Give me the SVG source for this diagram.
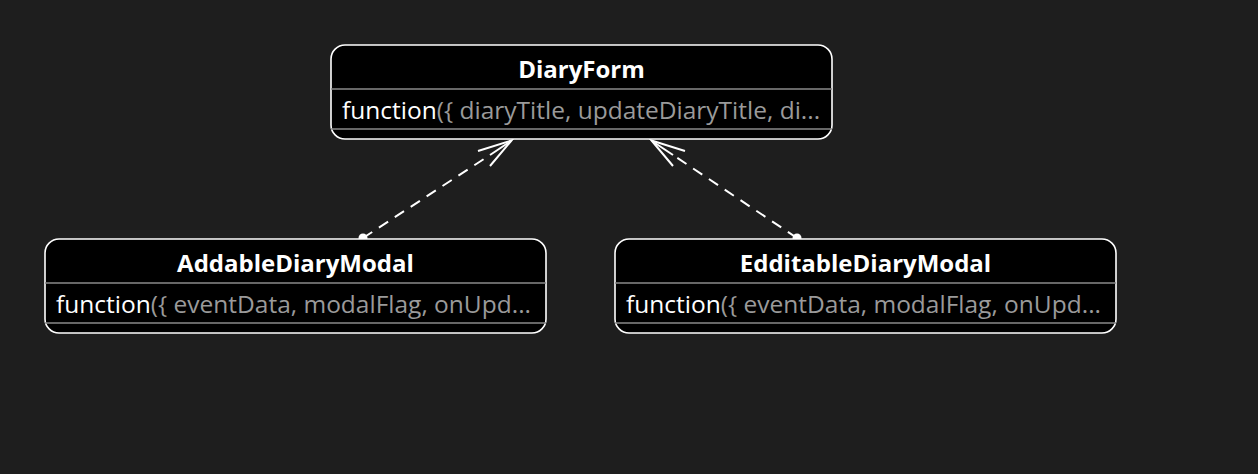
<svg xmlns="http://www.w3.org/2000/svg" width="1258" height="474" viewBox="0 0 1258 474">
<style>
.box{fill:#000;stroke:#fff;stroke-width:1.6}
.div{stroke:#8a8a8a;stroke-width:1.5}
.title{font-family:"Open Sans","Noto Sans",sans-serif;font-weight:bold;font-size:24px;fill:#fff;text-anchor:middle}
.body{font-family:"Open Sans","Noto Sans",sans-serif;font-size:24.5px;fill:#fff}
.gray{fill:#9a9a9a}
.edge{stroke:#fff;stroke-width:2;fill:none}
.dash{stroke-dasharray:11 8}
</style>
<rect width="1258" height="474" fill="#1e1e1e"/>
<g id="connectors">
<g id="e1">
<line class="edge dash" x1="363" y1="238" x2="490" y2="155"/>
<line class="edge" x1="490" y1="155" x2="511" y2="141"/>
<polyline class="edge" points="478,151 511.5,140.5 490,166"/>
<circle cx="363" cy="238" r="4.5" fill="#fff"/>
</g>
<g id="e2">
<line class="edge dash" x1="797" y1="238" x2="673" y2="155"/>
<line class="edge" x1="673" y1="155" x2="652" y2="141"/>
<polyline class="edge" points="685,151 651.5,140.5 673,166"/>
<circle cx="797" cy="238" r="4.5" fill="#fff"/>
</g>
</g>
<g id="DiaryForm">
<rect class="box" x="331" y="45" width="501" height="94" rx="14"/>
<line class="div" x1="331" y1="89" x2="832" y2="89"/>
<line class="div" x1="331" y1="129" x2="832" y2="129"/>
<text class="title" x="581.5" y="78">DiaryForm</text>
<text class="body" x="342" y="119">function<tspan class="gray">({ diaryTitle, updateDiaryTitle, di...</tspan></text>
</g>
<g id="AddableDiaryModal">
<rect class="box" x="45" y="239" width="501" height="94" rx="14"/>
<line class="div" x1="45" y1="283" x2="546" y2="283"/>
<line class="div" x1="45" y1="323" x2="546" y2="323"/>
<text class="title" x="295.5" y="272">AddableDiaryModal</text>
<text class="body" x="56" y="313">function<tspan class="gray">({ eventData, modalFlag, onUpd...</tspan></text>
</g>
<g id="EdditableDiaryModal">
<rect class="box" x="615" y="239" width="501" height="94" rx="14"/>
<line class="div" x1="615" y1="283" x2="1116" y2="283"/>
<line class="div" x1="615" y1="323" x2="1116" y2="323"/>
<text class="title" x="865.5" y="272">EdditableDiaryModal</text>
<text class="body" x="626" y="313">function<tspan class="gray">({ eventData, modalFlag, onUpd...</tspan></text>
</g>
</svg>
